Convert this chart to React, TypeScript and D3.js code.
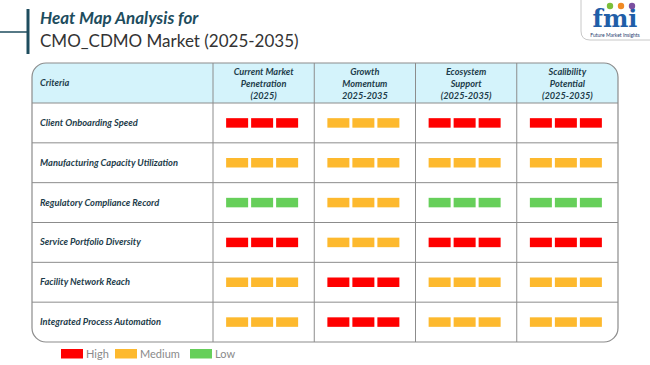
import React, { useEffect, useRef } from 'react';
import * as d3 from 'd3';

// criteria rows and their ratings per column
const criteria = [
    'Client Onboarding Speed',
    'Manufacturing Capacity Utilization',
    'Regulatory Compliance Record',
    'Service Portfolio Diversity',
    'Facility Network Reach',
    'Integrated Process Automation',
];

const columnLabels = [
    ['Current Market', 'Penetration', '(2025)'],
    ['Growth', 'Momentum', '2025-2035'],
    ['Ecosystem', 'Support', '(2025-2035)'],
    ['Scalibility', 'Potential', '(2025-2035)'],
];

const ratings = [
    ['High', 'Medium', 'High', 'High'],
    ['Medium', 'Medium', 'Medium', 'Medium'],
    ['Low', 'Medium', 'Low', 'Low'],
    ['High', 'Medium', 'High', 'High'],
    ['Medium', 'High', 'Medium', 'Medium'],
    ['Medium', 'High', 'Medium', 'Medium'],
];

const levels = ['High', 'Medium', 'Low'];
const levelColors = ['#ff0000', '#fdb92e', '#66cf5a'];

const FONT = 'Lato, "Open Sans", sans-serif';

const App = () => {
    const ref = useRef<SVGSVGElement | null>(null);

    useEffect(() => {
        const width = 650;
        const height = 365;
        const svg = d3.select(ref.current);
        svg.selectAll('*').remove();

        const color = d3.scaleOrdinal<string, string>().domain(levels).range(levelColors);

        // title block
        svg.append('line')
            .attr('x1', 0).attr('x2', 28).attr('y1', 32).attr('y2', 32)
            .attr('stroke', '#1e4d5e').attr('stroke-width', 1.5);
        svg.append('line')
            .attr('x1', 28).attr('x2', 28).attr('y1', 9).attr('y2', 54)
            .attr('stroke', '#1e4d5e').attr('stroke-width', 3);
        svg.append('text')
            .attr('x', 40).attr('y', 24)
            .attr('font-family', FONT).attr('font-size', 17)
            .attr('font-weight', 'bold').attr('font-style', 'italic')
            .attr('fill', '#1e4d5e')
            .text('Heat Map Analysis for');
        svg.append('text')
            .attr('x', 40).attr('y', 47)
            .attr('font-family', FONT).attr('font-size', 17)
            .attr('fill', '#333')
            .text('CMO_CDMO Market (2025-2035)');

        // logo
        const logo = svg.append('g');
        logo.append('path')
            .attr('d', 'M581,0 L581,31 Q581,40 590,40 L650,40')
            .attr('fill', 'none').attr('stroke', '#c8c8c8').attr('stroke-width', 1);
        logo.append('text')
            .attr('x', 615).attr('y', 27).attr('text-anchor', 'middle')
            .attr('font-family', 'DejaVu Serif, serif').attr('font-weight', 'bold')
            .attr('font-size', 24).attr('fill', '#1f5ea8')
            .text('fmi');
        [['#7bbf3a', 610], ['#f08a24', 621], ['#7b4fa0', 632]].forEach(([c, x]) => {
            logo.append('circle').attr('cx', x as number).attr('cy', 6).attr('r', 3.2).attr('fill', c as string);
        });
        logo.append('text')
            .attr('x', 615).attr('y', 36.5).attr('text-anchor', 'middle')
            .attr('font-family', FONT).attr('font-size', 5).attr('fill', '#1f3d6e')
            .text('Future Market Insights');

        // table geometry
        const left = 32, right = 618, top = 63, bottom = 342;
        const headerBottom = 103;
        const critRight = 213;

        const x = d3.scaleBand<number>()
            .domain(d3.range(columnLabels.length))
            .range([critRight, right]);
        const y = d3.scaleBand<string>()
            .domain(criteria)
            .range([headerBottom, bottom]);

        const defs = svg.append('defs');
        defs.append('clipPath').attr('id', 'tbl')
            .append('rect')
            .attr('x', left).attr('y', top)
            .attr('width', right - left).attr('height', bottom - top)
            .attr('rx', 14);

        const table = svg.append('g');
        table.append('rect')
            .attr('x', left).attr('y', top)
            .attr('width', right - left).attr('height', headerBottom - top)
            .attr('fill', '#d4f3fb')
            .attr('clip-path', 'url(#tbl)');

        // grid lines
        table.selectAll('line.h')
            .data(criteria.slice(0, -1))
            .enter()
            .append('line')
            .attr('x1', left).attr('x2', right)
            .attr('y1', (d) => (y(d) as number) + y.bandwidth())
            .attr('y2', (d) => (y(d) as number) + y.bandwidth())
            .attr('stroke', '#8c8c8c').attr('stroke-width', 1);
        table.append('line')
            .attr('x1', left).attr('x2', right)
            .attr('y1', headerBottom).attr('y2', headerBottom)
            .attr('stroke', '#8c8c8c').attr('stroke-width', 1);
        table.selectAll('line.v')
            .data(d3.range(columnLabels.length))
            .enter()
            .append('line')
            .attr('x1', (d) => x(d) as number).attr('x2', (d) => x(d) as number)
            .attr('y1', top).attr('y2', bottom)
            .attr('stroke', '#8c8c8c').attr('stroke-width', 1);
        table.append('rect')
            .attr('x', left).attr('y', top)
            .attr('width', right - left).attr('height', bottom - top)
            .attr('rx', 14)
            .attr('fill', 'none').attr('stroke', '#8c8c8c').attr('stroke-width', 1.2);

        // header text
        const hdrColor = '#1d3c4a';
        table.append('text')
            .attr('x', 40).attr('y', (top + headerBottom) / 2 + 3)
            .attr('font-family', FONT).attr('font-size', 9.2)
            .attr('font-weight', 'bold').attr('font-style', 'italic')
            .attr('fill', hdrColor)
            .text('Criteria');
        columnLabels.forEach((lines, i) => {
            const t = table.append('text')
                .attr('text-anchor', 'middle')
                .attr('font-family', FONT).attr('font-size', 9.2)
                .attr('font-weight', 'bold').attr('font-style', 'italic')
                .attr('fill', hdrColor);
            lines.forEach((ln, j) => {
                t.append('tspan')
                    .attr('x', (x(i) as number) + x.bandwidth() / 2)
                    .attr('y', 75 + j * 12)
                    .text(ln);
            });
        });

        // row labels
        table.selectAll('text.row')
            .data(criteria)
            .enter()
            .append('text')
            .attr('x', 40)
            .attr('y', (d) => (y(d) as number) + y.bandwidth() / 2 + 3)
            .attr('font-family', FONT).attr('font-size', 9.3)
            .attr('font-weight', 'bold').attr('font-style', 'italic')
            .attr('fill', hdrColor)
            .text((d) => d);

        // heat bars: three segments per cell
        const segW = 22, segH = 9.5, gap = 3;
        const cells = ratings.flatMap((row, r) => row.map((v, c) => ({ r, c, v })));
        table.selectAll('g.cell')
            .data(cells)
            .enter()
            .append('g')
            .attr('transform', (d) => {
                const cx = (x(d.c) as number) + x.bandwidth() / 2 - 1.5;
                const cy = (y(criteria[d.r]) as number) + y.bandwidth() / 2;
                return `translate(${cx - (segW * 3 + gap * 2) / 2},${cy - segH / 2})`;
            })
            .each(function (d) {
                d3.select(this)
                    .selectAll('rect')
                    .data([0, 1, 2])
                    .enter()
                    .append('rect')
                    .attr('x', (k) => k * (segW + gap))
                    .attr('width', segW)
                    .attr('height', segH)
                    .attr('fill', color(d.v));
            });

        // legend
        const legend = svg.append('g');
        const legendX = [61, 115, 190];
        levels.forEach((lv, i) => {
            legend.append('rect')
                .attr('x', legendX[i]).attr('y', 349)
                .attr('width', 22).attr('height', 9.5)
                .attr('fill', color(lv));
            legend.append('text')
                .attr('x', legendX[i] + 25).attr('y', 357.5)
                .attr('font-family', FONT).attr('font-size', 11)
                .attr('fill', '#8a8a8a')
                .text(lv);
        });

        svg.attr('width', width).attr('height', height);
    }, []);

    return (
        <svg
            ref={ref}
            width={650}
            height={365}
            style={{ position: 'absolute', left: 0, top: 0, background: '#fff' }}
        />
    );
};

export default App;
